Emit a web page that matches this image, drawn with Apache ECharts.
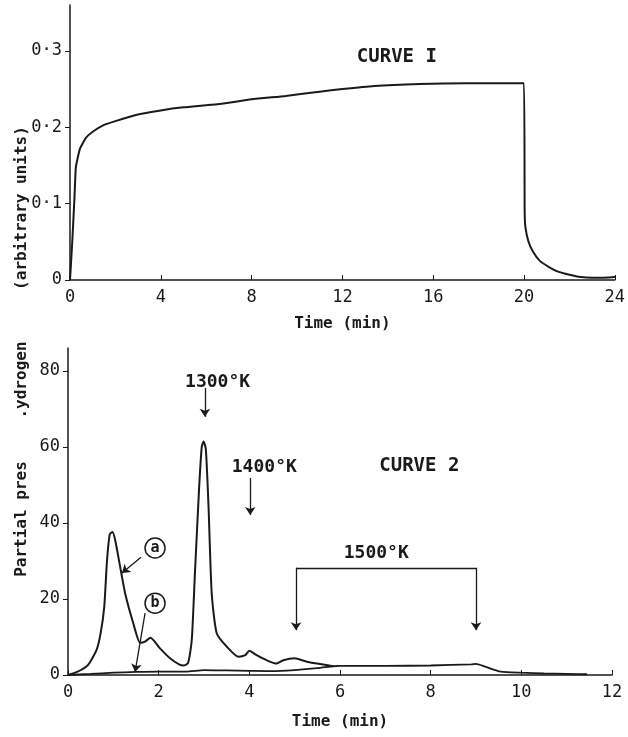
<!DOCTYPE html>
<html>
<head>
<meta charset="utf-8">
<script src="https://cdn.jsdelivr.net/npm/echarts@6/dist/echarts.min.js"></script>
<style>
  html, body { margin: 0; background: #fff; }
  #chart { width: 628px; height: 737px; }
</style>
</head>
<body>
<div id="chart"></div>
<script>
// curve 1 (top): time in min, signal in arbitrary units
var time1 = [0, 0.1, 0.2, 0.26, 0.44, 0.7, 1.0, 1.5, 2.0, 2.9, 4.0, 5.0, 6.5, 8.0, 9.5, 11.0, 12.0, 13.4, 15.4, 17.5, 20.0,
             20.03, 20.06, 20.2, 20.4, 20.7, 21.1, 21.5, 22.0, 22.5, 23.0, 23.5, 24.0, 24.45];
var signal1 = [0, 0.05, 0.11, 0.148, 0.172, 0.186, 0.194, 0.203, 0.208, 0.216, 0.222, 0.226, 0.230, 0.2365, 0.241, 0.2465, 0.25, 0.254, 0.2565, 0.2575, 0.2575,
               0.09, 0.07, 0.05, 0.037, 0.025, 0.017, 0.011, 0.007, 0.004, 0.003, 0.003, 0.004, 0.0065];

// curve 2 (bottom): partial pressure, trace (a) and trace (b)
var timeA = [0, 0.2, 0.44, 0.63, 0.72, 0.8, 0.86, 0.92, 0.98, 1.04, 1.15, 1.26, 1.44, 1.59, 1.7, 1.82, 2.03, 2.25, 2.45, 2.55, 2.65,
             2.73, 2.8, 2.89, 2.95, 2.99, 3.04, 3.1, 3.17, 3.28, 3.5, 3.76, 3.91, 4.0, 4.16, 4.38, 4.6, 4.75, 5.0, 5.27, 5.56, 5.85];
var pressA = [0, 0.8, 2.6, 6.6, 11, 18, 30, 37, 37.6, 35.5, 28.5, 21.5, 13.6, 8.5, 8.8, 9.8, 7.0, 4.4, 2.8, 2.5, 3.2,
              9.2, 26.8, 48.7, 60, 61.4, 59.5, 44.3, 21.5, 11, 7.5, 4.8, 5.2, 6.4, 5.2, 3.9, 3.0, 3.9, 4.4, 3.5, 2.9, 2.3];
var timeB = [0, 0.5, 1.0, 1.5, 2.0, 2.6, 3.0, 3.5, 4.0, 4.5, 5.0, 5.5, 5.85, 6.0, 7.0, 8.0, 8.9, 9.0, 9.2, 9.55, 10.0, 10.5, 11.0, 11.45];
var pressB = [0, 0.3, 0.6, 0.8, 0.9, 0.9, 1.3, 1.2, 1.1, 1.0, 1.3, 1.8, 2.3, 2.4, 2.4, 2.5, 2.8, 2.9, 2.2, 0.9, 0.6, 0.4, 0.3, 0.2];

var yTicks1 = [0, 0.1, 0.2, 0.3];
var yTicks2 = [0, 20, 40, 60, 80];

function pairs(xs, ys) {
  return xs.map(function (x, i) { return [x, ys[i]]; });
}

var ink = '#1a1a1a';
var mono = 'DejaVu Sans Mono';
var tickFont = { color: ink, fontFamily: mono, fontSize: 17 };

function txt(x, y, s, size) {
  return { coord: [x, y], value: s, label: { formatter: s, fontSize: size } };
}

var myChart = echarts.init(document.getElementById('chart'));

var option = {
  backgroundColor: '#fff',
  animation: false,
  grid: [
    { left: 70, right: 13, top: 5, height: 275 },
    { left: 68, right: 16, top: 348, height: 327 }
  ],
  xAxis: [
    {
      gridIndex: 0, type: 'value', min: 0, max: 24, interval: 4,
      name: 'Time (min)', nameLocation: 'middle', nameGap: 36,
      nameTextStyle: { color: ink, fontFamily: mono, fontWeight: 'bold', fontSize: 16 },
      axisLine: { lineStyle: { color: ink, width: 1.5 } },
      axisTick: { inside: true, length: 5, lineStyle: { color: ink } },
      axisLabel: Object.assign({ margin: 9 }, tickFont),
      splitLine: { show: false }
    },
    {
      gridIndex: 1, type: 'value', min: 0, max: 12, interval: 2,
      name: 'Time (min)', nameLocation: 'middle', nameGap: 39,
      nameTextStyle: { color: ink, fontFamily: mono, fontWeight: 'bold', fontSize: 16 },
      axisLine: { lineStyle: { color: ink, width: 1.5 } },
      axisTick: { inside: true, length: 5, lineStyle: { color: ink } },
      axisLabel: Object.assign({ margin: 9 }, tickFont),
      splitLine: { show: false }
    }
  ],
  yAxis: [
    {
      gridIndex: 0, type: 'value', min: 0, max: 0.36,
      axisLine: { show: true, lineStyle: { color: ink, width: 1.5 } },
      axisTick: { show: true, length: 5, customValues: yTicks1, lineStyle: { color: ink } },
      axisLabel: Object.assign({
        margin: 8, customValues: yTicks1,
        formatter: function (v) { return v === 0 ? '0' : '0·' + Math.round(v * 10); }
      }, tickFont),
      splitLine: { show: false }
    },
    {
      gridIndex: 1, type: 'value', min: 0, max: 86,
      axisLine: { show: true, lineStyle: { color: ink, width: 1.5 } },
      axisTick: { show: true, length: 5, customValues: yTicks2, lineStyle: { color: ink } },
      axisLabel: Object.assign({ margin: 8, customValues: yTicks2 }, tickFont),
      splitLine: { show: false }
    }
  ],
  graphic: [
    { type: 'text', x: 22, y: 208, rotation: Math.PI / 2,
      style: { text: '(arbitrary units)', fill: ink, font: 'bold 16px ' + mono, align: 'center', verticalAlign: 'middle' } },
    { type: 'text', x: 22, y: 519, rotation: Math.PI / 2,
      style: { text: 'Partial pres', fill: ink, font: 'bold 16px ' + mono, align: 'center', verticalAlign: 'middle' } },
    { type: 'text', x: 22, y: 380, rotation: Math.PI / 2,
      style: { text: '.ydrogen', fill: ink, font: 'bold 16px ' + mono, align: 'center', verticalAlign: 'middle' } }
  ],
  series: [
    {
      type: 'line', xAxisIndex: 0, yAxisIndex: 0, clip: false,
      data: pairs(time1, signal1), showSymbol: false, smooth: 0.15,
      lineStyle: { color: ink, width: 2 },
      markPoint: {
        silent: true, symbol: 'circle', symbolSize: 1,
        itemStyle: { color: 'rgba(0,0,0,0)' },
        label: { show: true, position: 'inside', color: ink, fontFamily: mono, fontWeight: 'bold' },
        data: [txt(14.4, 0.292, 'CURVE I', 19)]
      }
    },
    {
      name: 'a', type: 'line', xAxisIndex: 1, yAxisIndex: 1,
      data: pairs(timeA, pressA), showSymbol: false, smooth: 0.2,
      lineStyle: { color: ink, width: 2 },
      markLine: {
        silent: true, symbol: ['none', 'arrow'], symbolSize: 8,
        lineStyle: { color: ink, width: 1.3, type: 'solid' },
        label: { show: false },
        data: [
          [{ coord: [3.02, 75.5] }, { coord: [3.02, 67.9] }],
          [{ coord: [4.02, 51.8] }, { coord: [4.02, 42.1] }],
          [{ coord: [5.03, 28.2] }, { coord: [9.0, 28.2], symbol: 'none' }],
          [{ coord: [5.03, 28.2] }, { coord: [5.03, 11.8] }],
          [{ coord: [9.0, 28.2] }, { coord: [9.0, 11.8] }],
          [{ coord: [1.61, 31] }, { coord: [1.19, 26.8] }],
          [{ coord: [1.70, 16.3] }, { coord: [1.48, 0.8] }]
        ]
      },
      markPoint: {
        silent: true, symbol: 'circle', symbolSize: 1,
        itemStyle: { color: 'rgba(0,0,0,0)' },
        label: { show: true, position: 'inside', color: ink, fontFamily: mono, fontWeight: 'bold' },
        data: [
          txt(3.3, 77, '1300°K', 18),
          txt(4.33, 54.5, '1400°K', 18),
          txt(7.75, 55, 'CURVE 2', 19),
          txt(6.8, 32, '1500°K', 18),
          { coord: [1.92, 33.4], symbolSize: 20, itemStyle: { color: '#fff', borderColor: ink, borderWidth: 1.5 },
            label: { formatter: 'a', fontSize: 15 } },
          { coord: [1.92, 18.9], symbolSize: 20, itemStyle: { color: '#fff', borderColor: ink, borderWidth: 1.5 },
            label: { formatter: 'b', fontSize: 15 } }
        ]
      }
    },
    {
      name: 'b', type: 'line', xAxisIndex: 1, yAxisIndex: 1,
      data: pairs(timeB, pressB), showSymbol: false, smooth: 0.2,
      lineStyle: { color: ink, width: 1.8 }
    }
  ]
};

myChart.setOption(option);
</script>
</body>
</html>
